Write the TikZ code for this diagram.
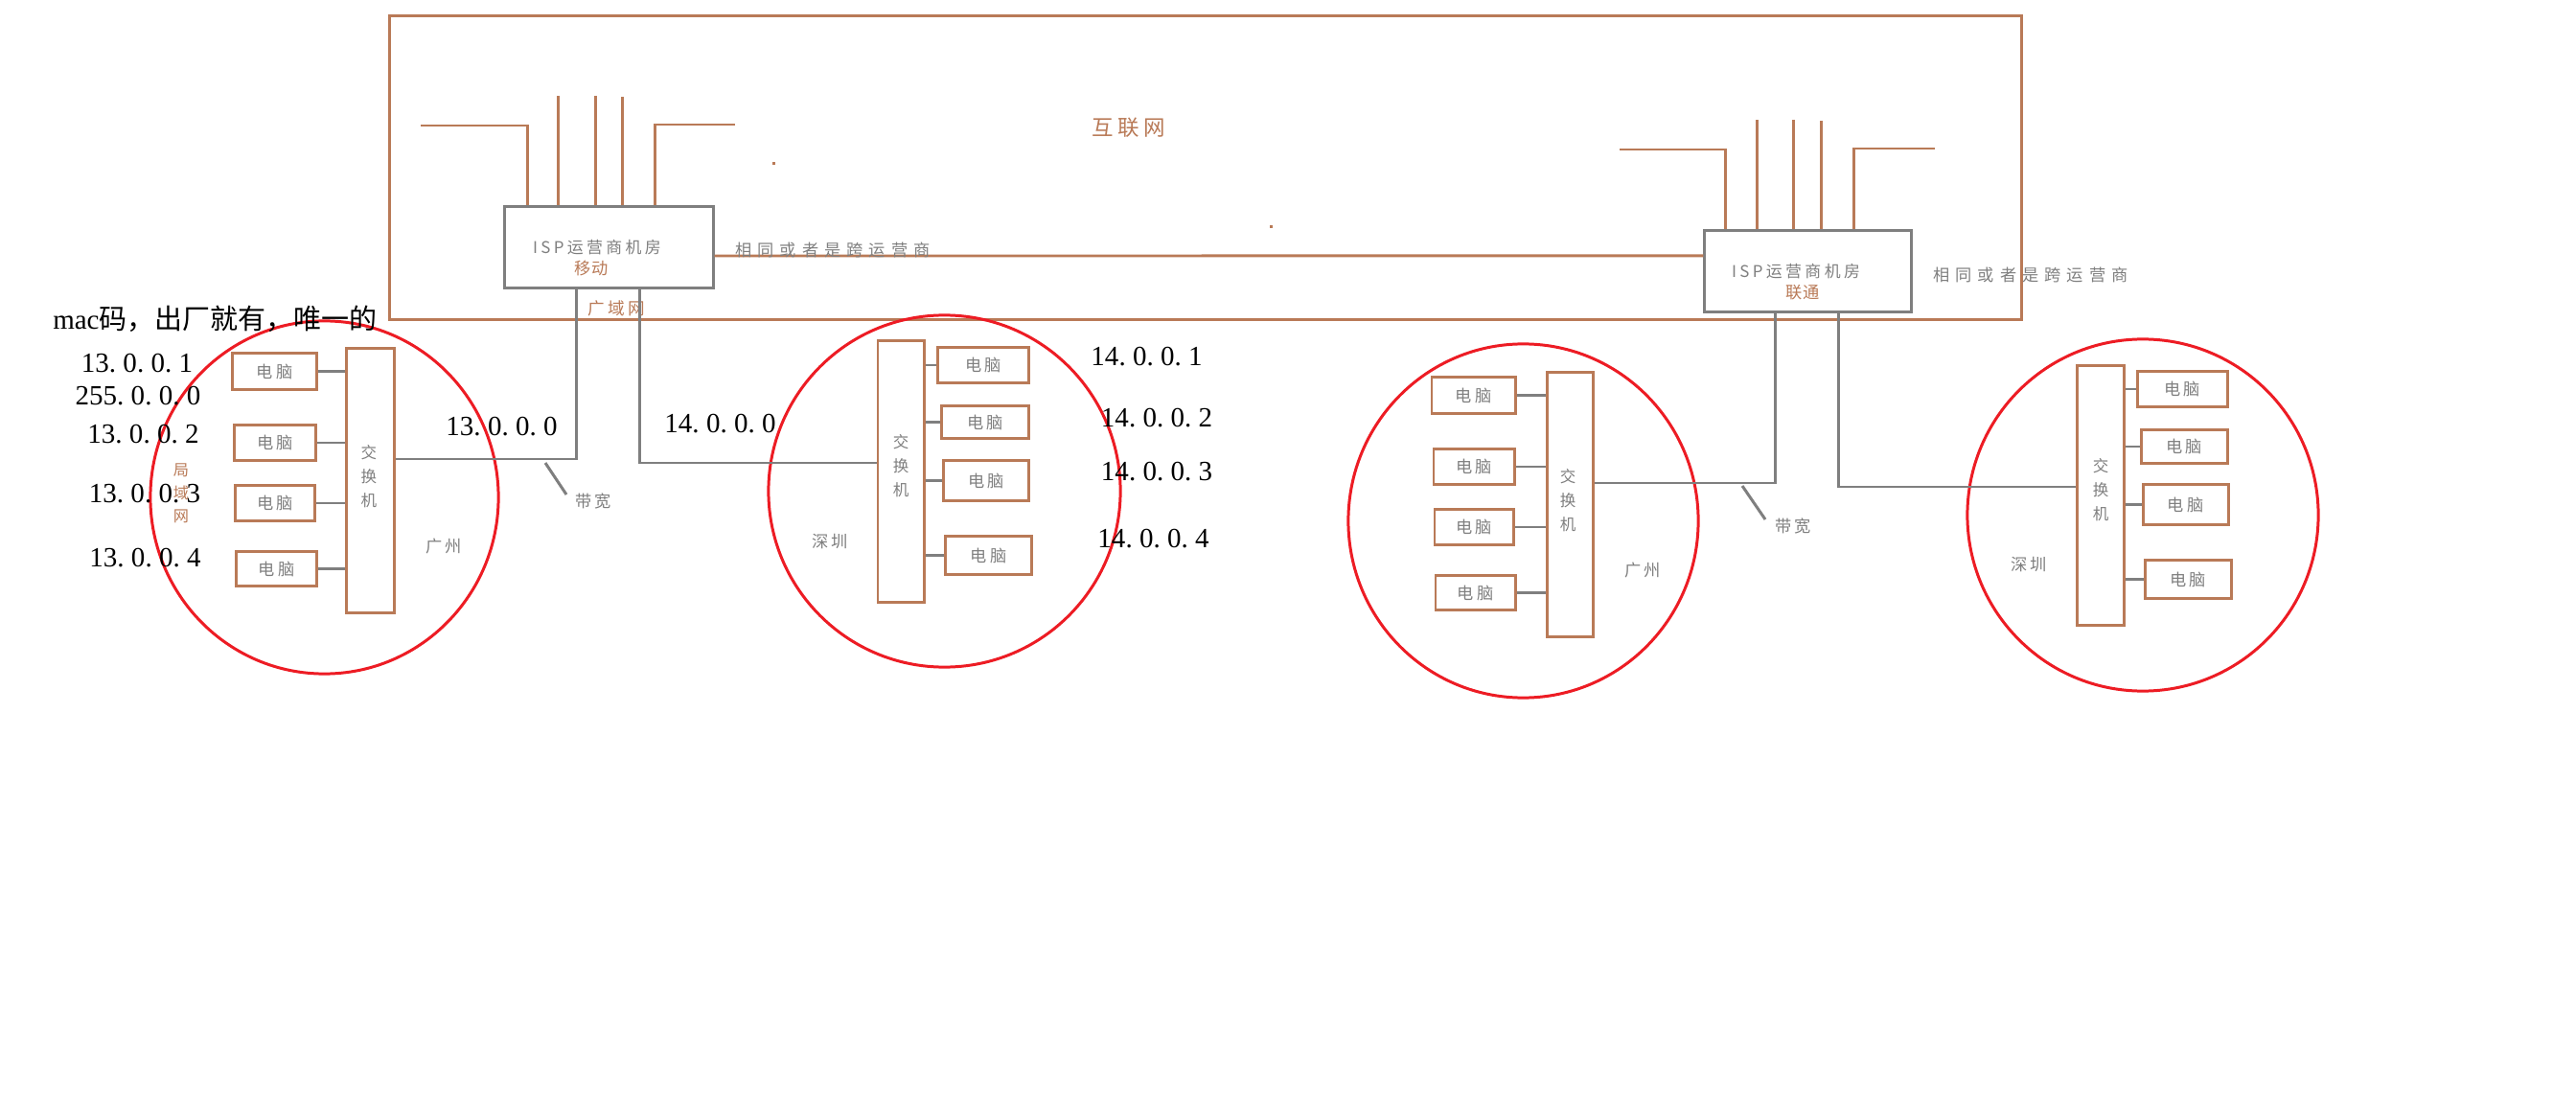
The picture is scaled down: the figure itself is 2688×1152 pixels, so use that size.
\documentclass[tikz,border=0pt]{standalone}
\usepackage{fontspec}
\setmainfont{Liberation Serif}
\newfontfamily\cjk{Noto Sans CJK SC}
\newfontfamily\cjksp[LetterSpace=20]{Noto Sans CJK SC}
\newfontfamily\cjkwide[LetterSpace=35]{Noto Sans CJK SC}
\usetikzlibrary{shapes.geometric}
\definecolor{brn}{RGB}{185,122,87}
\definecolor{gry}{RGB}{127,127,127}
\definecolor{rd}{RGB}{237,28,36}
\def\monoloop#1{\ifx#1\relax\else\makebox[0.5em][l]{#1}\expandafter\monoloop\fi}
\newcommand\monotxt[1]{\monoloop#1\relax}
\tikzset{
  bl/.style={draw=brn, line width=0.85pt},
  gl/.style={draw=gry, line width=0.85pt},
  pcbox/.style={draw=brn, line width=0.85pt, inner sep=0, text=gry, font=\cjksp\fontsize{4.9pt}{6pt}\selectfont},
  swbox/.style={draw=brn, line width=0.85pt, inner sep=0, minimum width=0.48cm, minimum height=2.72cm},
  ispbox/.style={draw=gry, line width=0.85pt, inner sep=0, minimum height=0.84cm},
  city/.style={ellipse, draw=rd, line width=0.85pt, inner sep=0},
  gtxt/.style={text=gry, inner sep=0, font=\cjksp\fontsize{4.9pt}{6pt}\selectfont},
  btxt/.style={text=brn, inner sep=0, font=\cjksp\fontsize{5pt}{6pt}\selectfont},
  vtxt/.style={text=gry, align=center, inner sep=0, font=\cjk\fontsize{4.7pt}{7.1pt}\selectfont},
  ip/.style={inner sep=0, font=\fontsize{8.25pt}{9pt}\selectfont},
}
\begin{document}
\begin{tikzpicture}[x=0.01cm,y=-0.01cm]
\useasboundingbox[fill=white] (0,0) rectangle (2688,1152);

% internet frame
\node[draw=brn, line width=0.85pt, inner sep=0, minimum width=17.02cm, minimum height=3.16cm] (inet) at (1258,175) {};
\node[text=brn, inner sep=0, font=\cjksp\fontsize{6.4pt}{7pt}\selectfont] (inettxt) at (1178,133) {互联网};
\fill[brn] (805.5,169.5) rectangle (808.5,172.5);
\fill[brn] (1324.5,235.5) rectangle (1327.5,238.5);

% ISP rooms
\node[ispbox, minimum width=2.17cm] (isp1) at (635.5,258) {};
\node[ispbox, minimum width=2.15cm] (isp2) at (1886.5,283) {};
\node[gtxt, font=\cjksp\fontsize{4.8pt}{6pt}\selectfont] (isp1t) at (623,258) {ISP运营商机房};
\node[btxt, font=\cjk\fontsize{4.9pt}{6pt}\selectfont] (isp1m) at (617,280) {移动};
\node[gtxt, font=\cjksp\fontsize{4.8pt}{6pt}\selectfont] (isp2t) at (1874,283) {ISP运营商机房};
\node[btxt, font=\cjk\fontsize{4.9pt}{6pt}\selectfont] (isp2m) at (1881,305) {联通};

% stubs into internet, ISP1
\coordinate (a1) at (439,131); \coordinate (a2) at (550,131);
\draw[bl] (a1) -- (a2) -- (a2 |- isp1.north);
\coordinate (a3) at (582,100); \draw[bl] (a3) -- (a3 |- isp1.north);
\coordinate (a4) at (621,100); \draw[bl] (a4) -- (a4 |- isp1.north);
\coordinate (a5) at (649,101); \draw[bl] (a5) -- (a5 |- isp1.north);
\coordinate (a6) at (767,130); \coordinate (a7) at (683,130);
\draw[bl] (a6) -- (a7) -- (a7 |- isp1.north);
% stubs ISP2
\coordinate (b1) at (1690,156); \coordinate (b2) at (1800,156);
\draw[bl] (b1) -- (b2) -- (b2 |- isp2.north);
\coordinate (b3) at (1833,125); \draw[bl] (b3) -- (b3 |- isp2.north);
\coordinate (b4) at (1871,125); \draw[bl] (b4) -- (b4 |- isp2.north);
\coordinate (b5) at (1900,126); \draw[bl] (b5) -- (b5 |- isp2.north);
\coordinate (b6) at (2019,155); \coordinate (b7) at (1934,155);
\draw[bl] (b6) -- (b7) -- (b7 |- isp2.north);

% link between ISPs
\draw[bl] ([yshift=-0.09cm]isp1.east) -- ([yshift=0.16cm]isp2.west);
\node[gtxt, font=\cjkwide\fontsize{4.9pt}{6pt}\selectfont] (same1) at (869,261) {相同或者是跨运营商};
\node[gtxt, font=\cjkwide\fontsize{4.9pt}{6pt}\selectfont] (same2) at (2119,287) {相同或者是跨运营商};
\node[btxt] (wan) at (643,322) {广域网};

% city circles
\node[city, minimum width=3.63cm, minimum height=3.68cm] (c1) at (338.5,519) {};
\node[city, minimum width=3.67cm, minimum height=3.67cm] (c2) at (985.5,512.5) {};
\node[city, minimum width=3.65cm, minimum height=3.69cm] (c3) at (1589.5,543.5) {};
\node[city, minimum width=3.66cm, minimum height=3.67cm] (c4) at (2236,537.5) {};

% switches
\node[swbox, minimum width=0.49cm, minimum height=2.75cm] (sw1) at (386.5,501.5) {};
\node[swbox] (sw2) at (940,492) {};
\node[swbox, minimum height=2.75cm] (sw3) at (1638,526.5) {};
\node[swbox, minimum width=0.49cm, minimum height=2.70cm] (sw4) at (2191.5,517) {};
\node[vtxt] (sw1t) at (385,497) {交\\换\\机};
\node[vtxt] (sw2t) at (940,486) {交\\换\\机};
\node[vtxt] (sw3t) at (1636,522) {交\\换\\机};
\node[vtxt] (sw4t) at (2192,511) {交\\换\\机};

% computers Guangzhou 1
\node[pcbox, minimum width=0.87cm, minimum height=0.37cm] (p11) at (286.5,387.5) {电脑};
\node[pcbox, minimum width=0.84cm, minimum height=0.36cm] (p12) at (287,462) {电脑};
\node[pcbox, minimum width=0.82cm, minimum height=0.36cm] (p13) at (287,525) {电脑};
\node[pcbox, minimum width=0.83cm, minimum height=0.35cm] (p14) at (288.5,593.5) {电脑};
\foreach \p in {p11,p12,p13,p14} \draw[gl] (\p.east) -- (\p.east -| sw1.west);
% computers Shenzhen 1
\node[pcbox, minimum width=0.94cm, minimum height=0.36cm] (p21) at (1026,381) {电脑};
\node[pcbox, minimum width=0.90cm, minimum height=0.33cm] (p22) at (1028,440.5) {电脑};
\node[pcbox, minimum width=0.88cm, minimum height=0.41cm] (p23) at (1029,501.5) {电脑};
\node[pcbox, minimum width=0.89cm, minimum height=0.39cm] (p24) at (1031.5,579.5) {电脑};
\foreach \p in {p21,p22,p23,p24} \draw[gl] (\p.west) -- (\p.west -| sw2.east);
% computers Guangzhou 2
\node[pcbox, minimum width=0.87cm, minimum height=0.37cm] (p31) at (1537.5,412.5) {电脑};
\node[pcbox, minimum width=0.84cm, minimum height=0.36cm] (p32) at (1538,487) {电脑};
\node[pcbox, minimum width=0.82cm, minimum height=0.36cm] (p33) at (1538,550) {电脑};
\node[pcbox, minimum width=0.83cm, minimum height=0.35cm] (p34) at (1539.5,618.5) {电脑};
\foreach \p in {p31,p32,p33,p34} \draw[gl] (\p.east) -- (\p.east -| sw3.west);
% computers Shenzhen 2
\node[pcbox, minimum width=0.94cm, minimum height=0.36cm] (p41) at (2277,406) {电脑};
\node[pcbox, minimum width=0.90cm, minimum height=0.34cm] (p42) at (2279,466) {电脑};
\node[pcbox, minimum width=0.89cm, minimum height=0.41cm] (p43) at (2280.5,526.5) {电脑};
\node[pcbox, minimum width=0.90cm, minimum height=0.39cm] (p44) at (2283,604.5) {电脑};
\foreach \p in {p41,p42,p43,p44} \draw[gl] (\p.west) -- (\p.west -| sw4.east);

% WAN connections
\coordinate (j1) at (601,479); \draw[gl] (isp1.south -| j1) -- (j1) -- (j1 -| sw1.east);
\coordinate (j2) at (667,483); \draw[gl] (isp1.south -| j2) -- (j2) -- (j2 -| sw2.west);
\coordinate (j3) at (1852,504); \draw[gl] (isp2.south -| j3) -- (j3) -- (j3 -| sw3.east);
\coordinate (j4) at (1918,508); \draw[gl] (isp2.south -| j4) -- (j4) -- (j4 -| sw4.west);

% bandwidth labels
\node[gtxt] (bw1) at (619,523) {带宽};
\node[gtxt] (bw2) at (1871,549) {带宽};
\coordinate (d1s) at (569,483); \coordinate (d1e) at (591,516);
\coordinate (d2s) at (1818,507); \coordinate (d2e) at (1842,542);
\draw[gl] (d1s) -- (d1e);
\draw[gl] (d2s) -- (d2e);

% city names
\node[gtxt] (gz1) at (463,570) {广州};
\node[gtxt] (gz2) at (1714,595) {广州};
\node[gtxt] (sz1) at (866,565) {深圳};
\node[gtxt] (sz2) at (2117,589) {深圳};
\node[text=brn, align=center, inner sep=0, font=\cjk\fontsize{4.6pt}{6.8pt}\selectfont] (lan) at (189,515) {局\\域\\网};

% addresses
\node[ip] (mac) at (224.5,333) {mac\cjk 码，出厂就有，唯一的};
\node[ip] (ip11) at (143,379) {\monotxt{13.0.0.1}};
\node[ip] (mask) at (144,413) {\monotxt{255.0.0.0}};
\node[ip] (ip12) at (149.5,453) {\monotxt{13.0.0.2}};
\node[ip] (ip13) at (151,515) {\monotxt{13.0.0.3}};
\node[ip] (ip14) at (151.5,582) {\monotxt{13.0.0.4}};
\node[ip] (net13) at (523.5,445) {\monotxt{13.0.0.0}};
\node[ip] (net14) at (751.5,442) {\monotxt{14.0.0.0}};
\node[ip] (ip21) at (1196.5,372) {\monotxt{14.0.0.1}};
\node[ip] (ip22) at (1207,436) {\monotxt{14.0.0.2}};
\node[ip] (ip23) at (1207,492) {\monotxt{14.0.0.3}};
\node[ip] (ip24) at (1203.5,562) {\monotxt{14.0.0.4}};
\end{tikzpicture}
\end{document}
